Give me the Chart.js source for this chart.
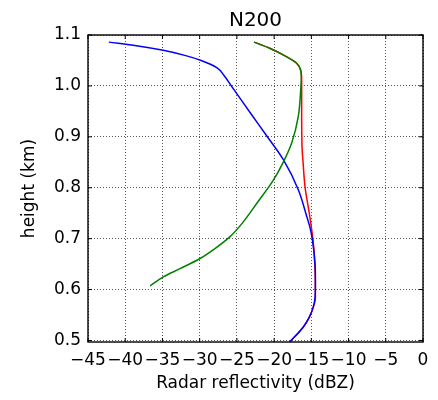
<!DOCTYPE html>
<html>
<head>
<meta charset="utf-8">
<title>N200</title>
<script src="https://cdn.jsdelivr.net/npm/chart.js@4/dist/chart.umd.min.js"></script>
<style>
  body { margin: 0; background: #fff; }
</style>
</head>
<body>
<canvas id="chart" width="438" height="400"></canvas>
<script>
// reflectivity profiles (dBZ) against height (km)
const blueHeight = [1.086, 1.079, 1.070, 1.060, 1.050, 1.036, 1.020, 1.000, 0.973, 0.940, 0.904, 0.855, 0.796, 0.743, 0.723, 0.697, 0.650, 0.618, 0.585, 0.565, 0.545, 0.526, 0.497];
const blueDbz = [-42.2, -38.5, -34.9, -32.0, -29.8, -27.7, -26.7, -25.75, -24.45, -22.85, -21.1, -18.76, -16.75, -15.6, -15.2, -14.85, -14.5, -14.45, -14.5, -14.75, -15.3, -16.1, -17.9];

const redHeight = [1.086, 1.074, 1.062, 1.045, 1.029, 1.012, 0.950, 0.881, 0.848, 0.802, 0.743, 0.691, 0.638, 0.585, 0.565, 0.545, 0.526, 0.497];
const redDbz = [-22.7, -20.6, -18.9, -17.0, -16.4, -16.3, -16.3, -16.25, -16.1, -15.85, -15.2, -14.73, -14.5, -14.45, -14.75, -15.3, -16.1, -17.9];

const greenHeight = [1.086, 1.074, 1.062, 1.045, 1.029, 1.015, 0.999, 0.940, 0.888, 0.848, 0.815, 0.769, 0.730, 0.704, 0.681, 0.661, 0.641, 0.625, 0.607];
const greenDbz = [-22.7, -20.6, -18.9, -17.0, -16.4, -16.35, -16.4, -16.75, -17.64, -18.85, -20.1, -22.34, -24.3, -25.92, -27.9, -29.95, -32.64, -34.88, -36.67];

const xTicks = [-45, -40, -35, -30, -25, -20, -15, -10, -5, 0];
const yTicks = [0.5, 0.6, 0.7, 0.8, 0.9, 1.0, 1.1];

const FONT = 'DejaVu Sans';

function toPoints(dbz, height) {
  let pts = [];
  for (let i = 0; i < dbz.length; i++) {
    pts.push({x: dbz[i], y: height[i]});
  }
  return pts;
}

// heights are monotone, so the curves are smoothed along the y axis
function makeDataset(dbz, height, color) {
  return {
    data: toPoints(dbz, height),
    borderColor: color,
    borderWidth: 1.5,
    showLine: true,
    pointRadius: 0,
    indexAxis: 'y',
    cubicInterpolationMode: 'monotone',
    fill: false
  };
}

// frame around the axes with inward tick marks on every side
const frameTicks = {
  id: 'frameTicks',
  afterDatasetsDraw(chart) {
    const ctx = chart.ctx;
    const a = chart.chartArea;
    const xs = chart.scales.x, ys = chart.scales.y;
    const len = 4;
    ctx.save();
    ctx.strokeStyle = '#000';
    ctx.lineWidth = 1;
    ctx.beginPath();
    xTicks.forEach(v => {
      const px = xs.getPixelForValue(v);
      ctx.moveTo(px, a.bottom); ctx.lineTo(px, a.bottom - len);
      ctx.moveTo(px, a.top); ctx.lineTo(px, a.top + len);
    });
    yTicks.forEach(v => {
      const py = ys.getPixelForValue(v);
      ctx.moveTo(a.left, py); ctx.lineTo(a.left + len, py);
      ctx.moveTo(a.right, py); ctx.lineTo(a.right - len, py);
    });
    ctx.stroke();
    ctx.lineWidth = 1.4;
    ctx.strokeRect(a.left, a.top, a.right - a.left, a.bottom - a.top);
    ctx.restore();
  }
};

const gridOpts = {
  color: 'rgba(0,0,0,0.65)',
  lineWidth: 1,
  drawTicks: false
};

new Chart(document.getElementById('chart'), {
  type: 'scatter',
  data: {
    datasets: [
      makeDataset(greenDbz, greenHeight, '#008000'),
      makeDataset(blueDbz, blueHeight, '#0000ff'),
      makeDataset(redDbz, redHeight, '#ff0000')
    ]
  },
  options: {
    responsive: false,
    animation: false,
    indexAxis: 'y',
    layout: { padding: { left: 0, right: 15, top: 0, bottom: 0 } },
    plugins: {
      legend: { display: false },
      tooltip: { enabled: false },
      title: {
        display: true,
        text: 'N200',
        fullSize: false,
        color: '#000',
        font: { family: FONT, size: 20, weight: 'normal' },
        padding: { top: 9, bottom: 2 }
      }
    },
    scales: {
      x: {
        type: 'linear',
        min: -45,
        max: 0,
        afterBuildTicks: s => { s.ticks = xTicks.map(v => ({value: v})); },
        afterFit: s => { s.height = 58; },
        grid: gridOpts,
        border: { display: false, dash: [1, 2] },
        ticks: {
          color: '#000',
          padding: 8,
          maxRotation: 0,
          autoSkip: false,
          font: { family: FONT, size: 17 },
          callback: v => v < 0 ? '\u2212' + Math.abs(v) : String(v)
        },
        title: {
          display: true,
          text: 'Radar reflectivity (dBZ)',
          color: '#000',
          font: { family: FONT, size: 17 },
          padding: { top: 0, bottom: 6 }
        }
      },
      y: {
        type: 'linear',
        min: 0.497,
        max: 1.1,
        afterBuildTicks: s => { s.ticks = yTicks.map(v => ({value: v})); },
        afterFit: s => { s.width = 88; },
        grid: gridOpts,
        border: { display: false, dash: [1, 2] },
        ticks: {
          color: '#000',
          padding: 7,
          autoSkip: false,
          font: { family: FONT, size: 17 },
          callback: v => v.toFixed(1)
        },
        title: {
          display: true,
          text: 'height (km)',
          color: '#000',
          font: { family: FONT, size: 17 },
          padding: { top: 19, bottom: 0 }
        }
      }
    }
  },
  plugins: [frameTicks]
});
</script>
</body>
</html>
